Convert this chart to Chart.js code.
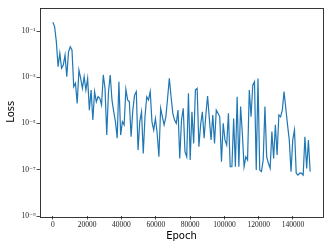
<!DOCTYPE html>
<html><head><meta charset="utf-8">
<script src="https://cdn.jsdelivr.net/npm/chart.js@4/dist/chart.umd.min.js"></script>
<style>html,body{margin:0;padding:0;background:#fff}#wrap{width:332px;height:249px}</style>
</head><body><div id="wrap"><canvas id="c" width="332" height="249"></canvas></div>
<script>
// log10(loss), in epoch order
const lossLog10 = [
 -0.62,-0.81,-1.46,-2.54,-1.96,-2.61,-2.47,-2.04,-2.98,-1.90,-1.68,-1.82,-3.41,-3.26,-4.13,-2.69,-3.05,-3.48,-2.98,-3.55,-3.05,-4.42,-3.55,-4.85,
 -3.62,-4.06,-3.84,-3.91,-4.20,-2.90,-3.48,-5.50,-3.62,-2.90,-3.98,-4.49,-4.92,-5.64,-3.19,-5.50,-4.92,-5.06,-3.52,-3.98,-4.06,-5.57,-4.42,-3.77,
 -3.62,-6.15,-4.92,-4.49,-6.30,-4.71,-3.84,-3.98,-3.62,-4.92,-5.28,-4.78,-5.42,-6.44,-4.34,-4.71,-5.06,-4.71,-3.91,-3.05,-3.84,-4.56,-4.85,-4.99,-4.42,
 -6.51,-4.85,-4.34,-6.22,-6.44,-3.69,-6.58,-4.49,-5.86,-3.55,-3.48,-6.00,-5.06,-4.49,-5.64,-4.63,-3.81,-4.78,-5.71,-4.63,-5.86,-4.42,-4.56,-4.71,-6.65,
 -4.99,-5.71,-5.93,-4.56,-6.87,-6.87,-4.78,-6.87,-3.84,-6.87,-4.27,-5.42,-6.87,-6.44,-6.58,-3.55,-4.71,-3.34,-3.19,-7.01,-3.05,-7.01,-7.08,-6.58,-4.27,
 -6.44,-6.72,-6.94,-5.35,-6.51,-5.06,-6.36,-4.63,-4.71,-4.42,-3.62,-4.34,-5.06,-5.71,-7.08,-5.71,-5.28,-7.15,-7.23,-7.15,-7.15,-7.23,-5.57,-6.94,-5.71,-7.08
];
const firstEpoch = 0;
const lastEpoch = 150000;
const xTickValues = [0,20000,40000,60000,80000,100000,120000,140000];
const xTickLabels = ['0','20000','40000','60000','80000','100000','120000','140000'];
const yTickValues = [1e-9,1e-7,1e-5,1e-3,1e-1];
const yTickLabels = ['10\u207B\u2079','10\u207B\u2077','10\u207B\u2075','10\u207B\u00B3','10\u207B\u00B9'];

const n = lossLog10.length;
const points = lossLog10.map((v,i)=>({x: firstEpoch + i*(lastEpoch-firstEpoch)/(n-1), y: Math.pow(10, v)}));

const frame = {
  id:'frame',
  afterDraw(chart){
    const {ctx, chartArea:a} = chart;
    ctx.save();
    ctx.strokeStyle = '#222';
    ctx.lineWidth = 0.9;
    ctx.strokeRect(Math.round(a.left)+0.5, Math.round(a.top)+0.5, Math.round(a.right-a.left), Math.round(a.bottom-a.top));
    ctx.restore();
  }
};

const tickFont = {family:'"Liberation Serif", "DejaVu Serif", serif', size:7.5};
const titleFont = {family:'"DejaVu Sans", sans-serif', size:10};

new Chart(document.getElementById('c'), {
  type:'line',
  data:{datasets:[{data:points, borderColor:'#1f77b4', borderWidth:1.2, pointRadius:0, fill:false, tension:0}]},
  options:{
    responsive:false, animation:false, devicePixelRatio:1,
    layout:{padding:{left:0, right:9, top:7.5, bottom:0}},
    plugins:{legend:{display:false}, tooltip:{enabled:false}},
    scales:{
      x:{
        type:'linear', min:-7500, max:157500,
        afterBuildTicks(s){ s.ticks = xTickValues.map(v=>({value:v})); },
        afterFit(s){ s.height = 33; },
        ticks:{callback:(v,i)=>xTickLabels[i], font:tickFont, color:'#222', padding:1.5, maxRotation:0, autoSkip:false},
        grid:{display:true, drawOnChartArea:false, drawTicks:true, tickLength:3.5, color:'#222', lineWidth:0.8},
        border:{display:false},
        title:{display:true, text:'Epoch', font:titleFont, color:'#000', padding:{top:0, bottom:7}}
      },
      y:{
        type:'logarithmic', min:1e-9, max:1.04,
        afterBuildTicks(s){ s.ticks = yTickValues.map(v=>({value:v})); },
        afterFit(s){ s.width = 40; },
        ticks:{callback:(v,i)=>yTickLabels[i], font:tickFont, color:'#222', padding:1, autoSkip:false},
        grid:{display:true, drawOnChartArea:false, drawTicks:true, tickLength:3.5, color:'#222', lineWidth:0.8},
        border:{display:false},
        title:{display:true, text:'Loss', font:titleFont, color:'#000', padding:{top:5, bottom:0}}
      }
    }
  },
  plugins:[frame]
});
</script>
</body></html>
